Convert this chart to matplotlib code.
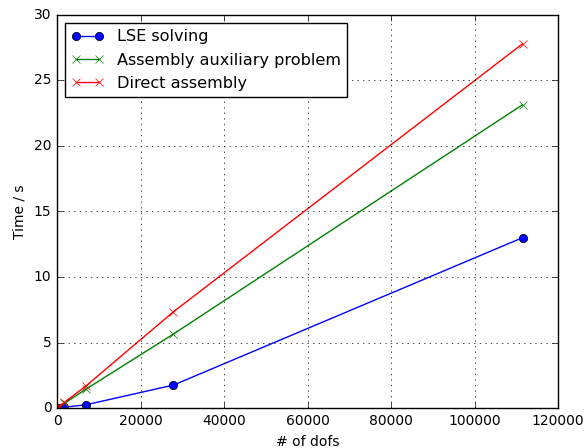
import matplotlib
matplotlib.use('Agg')
import matplotlib.pyplot as plt

plt.style.use('classic')

# number of degrees of freedom per refinement level
dofs = [450, 1750, 7000, 27900, 111500]

# timings in seconds
t_lse = [0.03, 0.06, 0.25, 1.75, 13.0]
t_aux = [0.1, 0.35, 1.45, 5.65, 23.15]
t_direct = [0.12, 0.42, 1.7, 7.35, 27.8]

fig = plt.figure(figsize=(5.87, 4.48), dpi=100)
ax = fig.add_axes([57/587, 40/448, 501/587, 393/448])

ax.plot(dofs, t_lse, 'o-', color='b', label='LSE solving')
ax.plot(dofs, t_aux, 'x-', color='g', label='Assembly auxiliary problem')
ax.plot(dofs, t_direct, 'x-', color='r', label='Direct assembly')

ax.set_xlim(0, 120000)
ax.set_ylim(0, 30)
ax.set_xlabel('# of dofs', fontsize=10)
ax.set_ylabel('Time / s', fontsize=10)
ax.tick_params(labelsize=10)
ax.grid(True)
ax.legend(loc='upper left', fontsize=11.6)

fig.savefig('out.png', dpi=100)
